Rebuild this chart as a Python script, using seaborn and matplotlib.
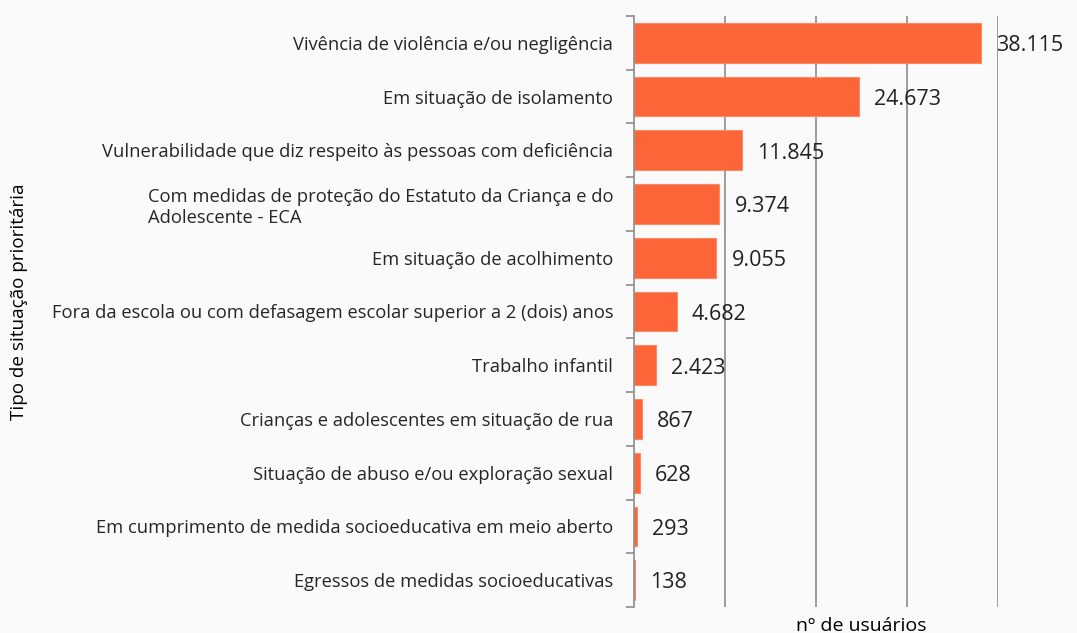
import pandas as pd
import numpy as np
import seaborn as sns
import matplotlib.pyplot as plt
from matplotlib.ticker import FixedLocator

# --- Dados ---
categorias = [
    "Vivência de violência e/ou negligência",
    "Em situação de isolamento",
    "Vulnerabilidade que diz respeito às pessoas com deficiência",
    "Com medidas de proteção do Estatuto da Criança e do\nAdolescente - ECA",
    "Em situação de acolhimento",
    "Fora da escola ou com defasagem escolar superior a 2 (dois) anos",
    "Trabalho infantil",
    "Crianças e adolescentes em situação de rua",
    "Situação de abuso e/ou exploração sexual",
    "Em cumprimento de medida socioeducativa em meio aberto",
    "Egressos de medidas socioeducativas",
]
usuarios = [38115, 24673, 11845, 9374, 9055, 4682, 2423, 867, 628, 293, 138]

df = pd.DataFrame({"Tipo": categorias, "Usuarios": usuarios})

# --- Visualização ---
sns.set_theme(style="white")
plt.rcParams['font.family'] = ['Open Sans', 'DejaVu Sans']

fig = plt.figure(figsize=(10.77, 6.33), dpi=100, facecolor='#fafafa')
ax = fig.add_axes([634 / 1077, 1 - 607 / 633, (998 - 634) / 1077, (607 - 16) / 633])
ax.set_facecolor('#fafafa')

sns.barplot(data=df, y="Tipo", x="Usuarios", orient="h", color="#fc6537",
            saturation=1, width=0.74, edgecolor="#fd8a66", linewidth=0.8, ax=ax)

ax.set_xlim(0, 40000)
ax.set_ylim(len(categorias) - 0.5, -0.5)
ax.set_xticks([10000, 20000, 30000, 40000])
ax.set_xticklabels([])
ax.tick_params(axis='x', length=0)
ax.grid(axis='x', color='#8c8c8c', linewidth=1.2)
ax.set_axisbelow(True)

for s in ['top', 'right', 'bottom']:
    ax.spines[s].set_visible(False)
ax.spines['left'].set_color('#8c8c8c')
ax.spines['left'].set_linewidth(1.2)

# ticks nos limites das categorias
ax.yaxis.set_minor_locator(FixedLocator(np.arange(-0.5, len(categorias), 1.0)))
ax.tick_params(axis='y', which='minor', length=6, width=1.2, color='#8c8c8c', left=True)
ax.tick_params(axis='y', which='major', length=0, pad=15, labelsize=13.2, labelcolor='#262626')
for lbl in ax.get_yticklabels():
    lbl.set_multialignment('left')

# rótulos de valor
for i, v in enumerate(usuarios):
    txt = f"{v:,}".replace(",", ".")
    ax.annotate(txt, (v, i), xytext=(11, -2), textcoords='offset points',
                ha='left', va='center', fontsize=15.5, color='#222222',
                annotation_clip=False)

ax.set_ylabel("Tipo de situação prioritária", fontsize=13.6, color='black')
ax.yaxis.set_label_coords((28 - 634) / 364, 0.516)
ax.set_xlabel("nº de usuários", fontsize=14, color='black')
ax.xaxis.set_label_coords((861 - 634) / 364, -0.017)
ax.xaxis.label.set_va('top')

fig.savefig("out.png", dpi=100, facecolor=fig.get_facecolor())
